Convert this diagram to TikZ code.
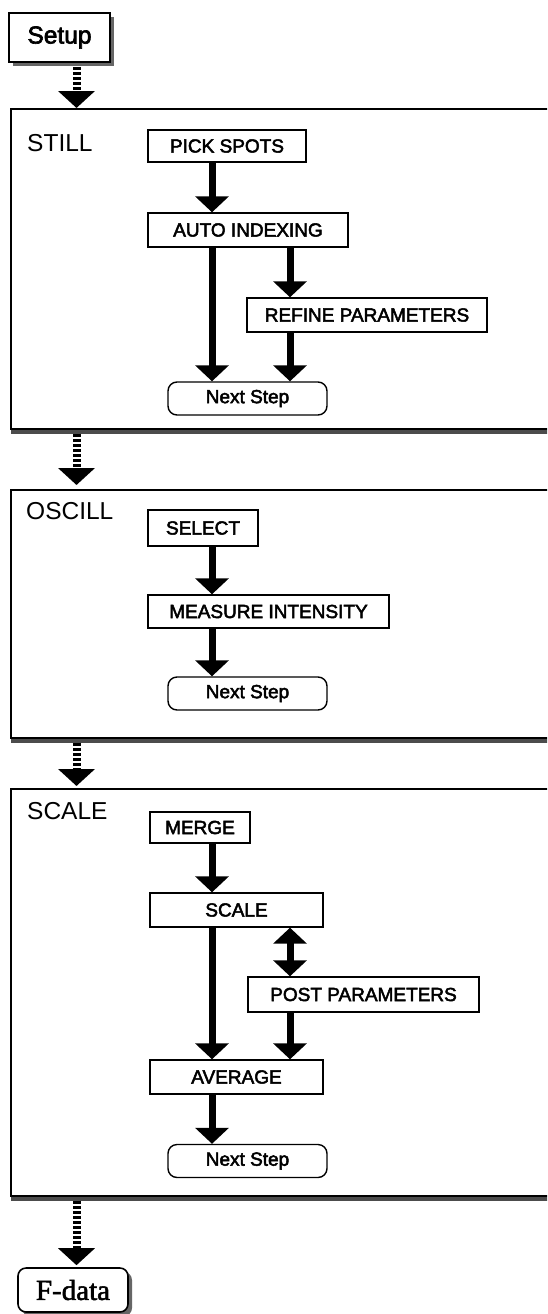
\documentclass[tikz,border=0pt]{standalone}
\usepackage{fontspec}
\setmainfont{Liberation Sans}[BoldFont=Liberation Sans, BoldFeatures={FakeBold=2.6}]
\newfontfamily\seriffont{Liberation Serif}[BoldFont=Liberation Serif, BoldFeatures={FakeBold=1.8}]
\usetikzlibrary{arrows.meta,shadows}
\tikzset{
  box/.style={draw, line width=1.4pt, inner sep=0pt, font=\fontsize{19}{21}\bfseries},
  nextbox/.style={box, rounded corners=9pt, minimum width=159pt, minimum height=33pt},
  panel/.style={draw, line width=1.8pt, inner sep=0pt, anchor=north west, minimum width=620pt},
  ptitle/.style={anchor=west, inner sep=0pt, font=\fontsize{24.5}{26}\selectfont},
  pshadow/.style={line width=3.2pt, draw=black!70},
  flow/.style={line width=7pt, -{Triangle[width=33pt,length=16pt]}},
  flow2/.style={line width=7pt, {Triangle[width=33pt,length=16pt]}-{Triangle[width=33pt,length=16pt]}},
  xfer/.style={line width=8pt, dash pattern=on 3pt off 2pt, -{Triangle[width=36pt,length=17pt]}},
}
\begin{document}
\begin{tikzpicture}[x=1pt,y=-1pt]
\clip (0,0) rectangle (547,1314);
\fill[white] (0,0) rectangle (547,1314);
\coordinate (ax) at (76.5,0);
\coordinate (lx) at (212,0);
\coordinate (rx) at (290,0);

% Setup
\node[box, line width=1.6pt, minimum width=101pt, minimum height=49pt, font=\fontsize{24.5}{26}\bfseries,
      drop shadow={shadow xshift=4pt, shadow yshift=-4pt, fill=black!60, opacity=1}, fill=white] (setup) at (59.5,37.5) {Setup};

% STILL panel
\node[panel, minimum height=320pt] (still) at (10,108) {};
\draw[pshadow] ([xshift=1pt,yshift=-2.2pt]still.south west) -- ++(620,0);
\node[ptitle] (stillt) at (27,143) {STILL};
\node[box, minimum width=158pt, minimum height=32pt] (pick) at (227,146) {PICK SPOTS};
\node[box, minimum width=200pt, minimum height=34pt] (auto) at (248,230) {AUTO INDEXING};
\node[box, minimum width=240pt, minimum height=34pt] (refine) at (367,315) {REFINE PARAMETERS};
\node[nextbox] (next1) at (247.5,398.5) {Next Step};
\draw[flow] (pick.south -| lx) -- (auto.north -| lx);
\draw[flow] (auto.south -| lx) -- (next1.north -| lx);
\draw[flow] (auto.south -| rx) -- (refine.north -| rx);
\draw[flow] (refine.south -| rx) -- (next1.north -| rx);

% OSCILL panel
\node[panel, minimum height=248pt] (oscill) at (10,489) {};
\draw[pshadow] ([xshift=1pt,yshift=-2.2pt]oscill.south west) -- ++(620,0);
\node[ptitle] (oscillt) at (26,511) {OSCILL};
\node[box, minimum width=110pt, minimum height=36pt] (select) at (203,528) {SELECT};
\node[box, minimum width=241pt, minimum height=33pt] (measure) at (268.5,611.5) {MEASURE INTENSITY};
\node[nextbox] (next2) at (247.5,693.5) {Next Step};
\draw[flow] (select.south -| lx) -- (measure.north -| lx);
\draw[flow] (measure.south -| lx) -- (next2.north -| lx);

% SCALE panel
\node[panel, minimum height=407pt] (scalep) at (10,788) {};
\draw[pshadow] ([xshift=1pt,yshift=-2.2pt]scalep.south west) -- ++(620,0);
\node[ptitle] (scalet) at (27,811) {SCALE};
\node[box, minimum width=100pt, minimum height=31pt] (merge) at (200,827.5) {MERGE};
\node[box, minimum width=173pt, minimum height=34pt] (scale) at (236.5,910) {SCALE};
\node[box, minimum width=231pt, minimum height=35pt] (post) at (363.5,994.5) {POST PARAMETERS};
\node[box, minimum width=173pt, minimum height=34pt] (average) at (236.5,1077) {AVERAGE};
\node[nextbox] (next3) at (247.5,1161) {Next Step};
\draw[flow] (merge.south -| lx) -- (scale.north -| lx);
\draw[flow2] (scale.south -| rx) -- (post.north -| rx);
\draw[flow] (scale.south -| lx) -- (average.north -| lx);
\draw[flow] (post.south -| rx) -- (average.north -| rx);
\draw[flow] (average.south -| lx) -- (next3.north -| lx);

% F-data
\node[box, line width=1.6pt, rounded corners=8pt, minimum width=110pt, minimum height=44pt,
      font=\seriffont\fontsize{29}{31}\bfseries,
      drop shadow={shadow xshift=4pt, shadow yshift=-4pt, fill=black!60, opacity=1}, fill=white] (fdata) at (73,1290) {F-data};

% transfer arrows
\draw[xfer] ([yshift=-4pt]setup.south -| ax) -- (still.north -| ax);
\draw[xfer] ([yshift=-4pt]still.south -| ax) -- ([yshift=4pt]oscill.north -| ax);
\draw[xfer] ([yshift=-4pt]oscill.south -| ax) -- ([yshift=2pt]scalep.north -| ax);
\draw[xfer] ([yshift=-4pt]scalep.south -| ax) -- ([yshift=2pt]fdata.north -| ax);
\end{tikzpicture}
\end{document}
